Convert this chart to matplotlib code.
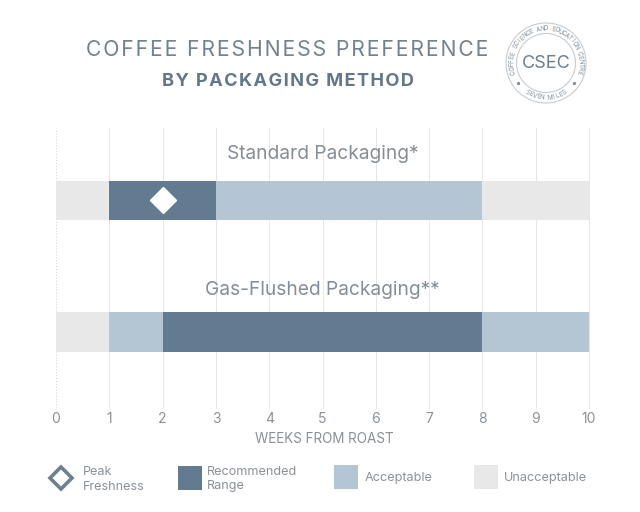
import numpy as np
import matplotlib
matplotlib.use("Agg")
import matplotlib.pyplot as plt
from matplotlib.patches import Circle, Rectangle

plt.rcParams['font.family'] = ['Inter', 'DejaVu Sans']

# данные
weeks = [0, 1, 2, 3, 4, 5, 6, 7, 8, 9, 10]
packaging = ["Standard Packaging*", "Gas-Flushed Packaging**"]
standard_edges = [0, 1, 3, 8, 10]
standard_kinds = ["Unacceptable", "Recommended", "Acceptable", "Unacceptable"]
gas_edges = [0, 1, 2, 8, 10]
gas_kinds = ["Unacceptable", "Acceptable", "Recommended", "Acceptable"]
peak_week = 2

DARK = "#637b90"
LIGHT = "#b4c6d3"
GREY = "#e8e8e8"
TEXT = "#8b9196"
colors = {"Recommended": DARK, "Acceptable": LIGHT, "Unacceptable": GREY}

W, H = 640, 512


def spaced(s):
    return "\u200a".join(s)


def arc_text(ax, s, cx, cy, r, start, end, flip=False):
    """Пишет текст по дуге, по одному символу."""
    angles = np.linspace(start, end, len(s))
    for ch, a in zip(s, angles):
        x = cx + r * np.cos(np.radians(a))
        y = cy - r * np.sin(np.radians(a))
        rot = a + 90 if flip else a - 90
        ax.text(x, y, ch, fontsize=4.4, color="#7c8a96", rotation=rot,
                rotation_mode="anchor", ha="center", va="center")


fig = plt.figure(figsize=(W / 100, H / 100), dpi=100, facecolor="white")

# основная ось
ax = fig.add_axes([56 / W, 1 - 408 / H, (589 - 56) / W, (408 - 128) / H])
ax.set_xlim(0, 10)
ax.set_ylim(-0.578, 1.551)
for s in ax.spines.values():
    s.set_visible(False)
ax.set_yticks([])
ax.set_xticks(weeks)
ax.set_xticklabels(weeks, fontsize=10, color=TEXT)
ax.tick_params(axis="x", length=0, pad=3)
ax.set_xlabel("WEEKS FROM ROAST", fontsize=9.7, color=TEXT, labelpad=4, x=0.503)
ax.set_axisbelow(True)
for w in weeks:
    if w == 0:
        ax.axvline(w, color="#d5d5d5", lw=0.8, ls=":", zorder=0, clip_on=False)
    else:
        ax.axvline(w, color="#e6e6e6", lw=0.7, zorder=0, clip_on=False)

rows = [(1, standard_edges, standard_kinds), (0, gas_edges, gas_kinds)]
for y, edges, kinds in rows:
    for i, kind in enumerate(kinds):
        ax.barh(y, edges[i + 1] - edges[i], left=edges[i], height=0.30,
                color=colors[kind], zorder=2, lw=0)
ax.text(5, 1.35, packaging[0], fontsize=13.8, color="#858e96", ha="center", va="center")
ax.text(5, 0.32, packaging[1], fontsize=13.8, color="#858e96", ha="center", va="center")
ax.plot([peak_week], [1], marker="D", ms=13.5, color="white", mec="white", zorder=3)

# оверлей в пикселях: заголовок, логотип, легенда
ov = fig.add_axes([0, 0, 1, 1], facecolor="none")
ov.set_xlim(0, W)
ov.set_ylim(H, 0)
ov.axis("off")

ov.text(287.5, 50, spaced("COFFEE FRESHNESS PREFERENCE"), fontsize=15.2, color="#71838f",
        ha="center", va="center")
ov.text(287.5, 81, spaced("BY PACKAGING METHOD"), fontsize=13.1, fontweight="bold",
        color="#627789", ha="center", va="center")

cx, cy = 546, 63
ov.add_patch(Circle((cx, cy), 40, fill=False, ec="#c6ccd1", lw=0.8))
ov.add_patch(Circle((cx, cy), 29.5, fill=False, ec="#c6ccd1", lw=0.8))
ov.text(cx, cy + 0.5, "CSEC", fontsize=13, color="#6c7f8e", ha="center", va="center")
arc_text(ov, "COFFEE SCIENCE AND EDUCATION CENTRE", cx, cy, 34.5, 195, -15)
arc_text(ov, "SEVEN MILES", cx, cy, 34.5, 238, 302, flip=True)
for a in (215, 325):
    ov.plot(cx + 34 * np.cos(np.radians(a)), cy - 34 * np.sin(np.radians(a)),
            "o", ms=1.3, color="#7c8a96")

# легенда
ov.plot([61], [478], marker="D", ms=11.5, mfc="white", mec="#6d8091", mew=2.6)
ov.add_patch(Rectangle((178, 466), 24, 24, color=DARK, lw=0))
ov.add_patch(Rectangle((334, 465), 24, 24, color=LIGHT, lw=0))
ov.add_patch(Rectangle((474, 465), 24, 24, color=GREY, lw=0))
ov.text(83, 472, "Peak", fontsize=9.1, color=TEXT, va="center")
ov.text(83, 487, "Freshness", fontsize=9.1, color=TEXT, va="center")
ov.text(207, 472, "Recommended", fontsize=9.1, color=TEXT, va="center")
ov.text(207, 486, "Range", fontsize=9.1, color=TEXT, va="center")
ov.text(365, 478.5, "Acceptable", fontsize=9.1, color=TEXT, va="center")
ov.text(504, 478.5, "Unacceptable", fontsize=9.1, color=TEXT, va="center")

fig.savefig("out.png", dpi=100)
plt.close(fig)
